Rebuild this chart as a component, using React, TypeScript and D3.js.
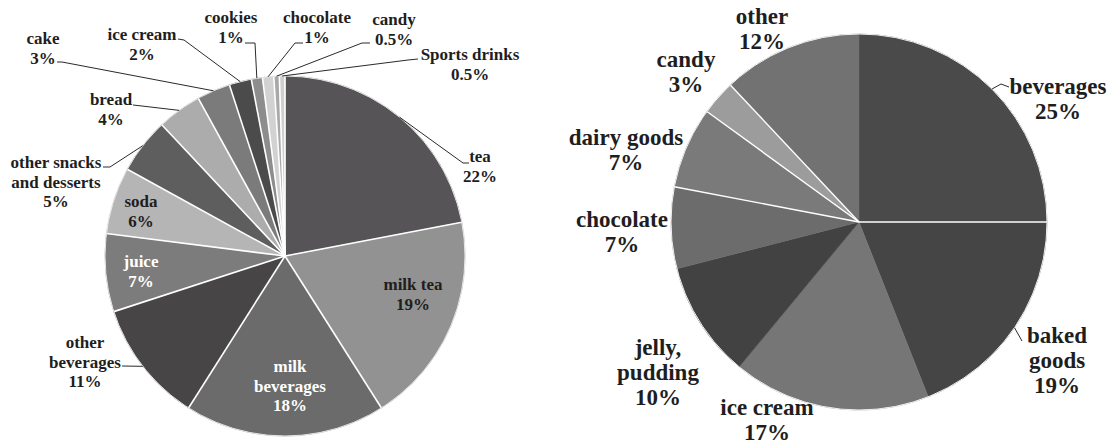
import React from 'react';
import * as d3 from 'd3';

// ---------- data ----------
const leftCategories = ['tea', 'milk tea', 'milk beverages', 'other beverages', 'juice', 'soda', 'other snacks and desserts', 'bread', 'cake', 'ice cream', 'cookies', 'chocolate', 'candy', 'Sports drinks'];
const leftValues = [22, 19, 18, 11, 7, 6, 5, 4, 3, 2, 1, 1, 0.5, 0.5];
const leftLabelLines = [
  ['tea', '22%'], ['milk tea', '19%'], ['milk', 'beverages', '18%'], ['other', 'beverages', '11%'],
  ['juice', '7%'], ['soda', '6%'], ['other snacks', 'and desserts', '5%'], ['bread', '4%'], ['cake', '3%'],
  ['ice cream', '2%'], ['cookies', '1%'], ['chocolate', '1%'], ['candy', '0.5%'], ['Sports drinks', '0.5%'],
];

const rightCategories = ['beverages', 'baked goods', 'ice cream', 'jelly, pudding', 'chocolate', 'dairy goods', 'candy', 'other'];
const rightValues = [25, 19, 17, 10, 7, 7, 3, 12];
const rightLabelLines = [
  ['beverages', '25%'], ['baked', 'goods', '19%'], ['ice cream', '17%'], ['jelly,', 'pudding', '10%'],
  ['chocolate', '7%'], ['dairy goods', '7%'], ['candy', '3%'], ['other', '12%'],
];

// ---------- styles / layout ----------
const leftColors = ['#565456', '#929292', '#6b6b6b', '#484546', '#7c7c7c', '#b5b5b5', '#5e5e5e', '#acacac', '#7b7b7b', '#4b4b4b', '#8d8d8d', '#d2d2d2', '#a9a9a9', '#cfcfcf'];
const rightColors = ['#4a4a4a', '#454545', '#767676', '#424242', '#6c6c6c', '#7a7a7a', '#9c9c9c', '#727272'];

// label placement: [x center, first line visual center y]
const leftLabelPos: [number, number][] = [
  [480, 157], [413, 285], [290, 367], [85, 343], [141, 262], [141, 202], [56, 163],
  [111, 100], [43, 39], [142, 35], [231, 18], [317, 18], [394, 20], [470, 55],
];
const leftLabelFill = ['#1e1e1e', '#1e1e1e', '#ffffff', '#1e1e1e', '#ffffff', '#1e1e1e', '#1e1e1e', '#1e1e1e', '#1e1e1e', '#1e1e1e', '#1e1e1e', '#1e1e1e', '#1e1e1e', '#1e1e1e'];
// leader lines: label-side points, then joined to the slice's outer arc point (null = no leader)
const leftLeaders: ([number, number][] | null)[] = [
  [[469, 163], [463, 163]], null, null, [[122, 366]], null, null, [[103, 167], [110, 167]],
  [[133, 105], [142, 106]], [[57, 62], [62, 62]], [[178, 39], [184, 40]], [[245, 43], [255, 43]],
  [[303, 43], [295, 43]], [[370, 43], [362, 43]], [[418, 59], [408, 60]],
];
const leftSeparators = leftValues.map(() => true);

const rightLabelPos: [number, number][] = [
  [1058, 87], [1057, 336], [767, 408], [658, 348], [622, 220], [626, 138], [686, 60], [762, 17],
];
const rightLeaders: ([number, number][] | null)[] = [
  [[1009, 87], [1001, 84]], [[1022, 341]], null, null, null, null, null, null,
];
// white separator drawn at the start edge of these slices
const rightSeparators = [false, true, false, false, false, true, true, true];

const LEFT = { cx: 285, cy: 256, r: 180, font: 17, lh: 19.5 };
const RIGHT = { cx: 859, cy: 222, r: 188, font: 23, lh: 25 };
const FONT = '"Liberation Serif", "Times New Roman", serif';

type PieProps = {
  values: number[];
  colors: string[];
  lines: string[][];
  pos: [number, number][];
  fills?: string[];
  leaders: ([number, number][] | null)[];
  separators: boolean[];
  cfg: { cx: number; cy: number; r: number; font: number; lh: number };
  strokeW: number;
  rim: string;
};

function Pie({ values, colors, lines, pos, fills, leaders, separators, cfg, strokeW, rim }: PieProps) {
  const pie = d3.pie<number>().sort(null).value((d) => d);
  const arcs = pie(values);
  const arc = d3.arc<d3.PieArcDatum<number>>().innerRadius(0).outerRadius(cfg.r);
  const edge = d3.arc<d3.PieArcDatum<number>>().innerRadius(cfg.r).outerRadius(cfg.r);
  const line = d3.line();
  return (
    <g>
      <g transform={`translate(${cfg.cx},${cfg.cy})`}>
        {arcs.map((a, i) => (
          <path key={i} d={arc(a) || ''} fill={colors[i]} stroke={colors[i]} strokeWidth={0.5} />
        ))}
        {arcs.map((a, i) => {
          if (!separators[i]) return null;
          const [x, y] = d3.pointRadial(a.startAngle, cfg.r);
          return <line key={'s' + i} x1={0} y1={0} x2={x} y2={y} stroke="#ffffff" strokeWidth={strokeW} />;
        })}
        <circle r={cfg.r} fill="none" stroke={rim} strokeWidth={1} />
      </g>
      {arcs.map((a, i) => {
        const L = leaders[i];
        if (!L) return null;
        const [ex, ey] = edge.centroid(a);
        const pts: [number, number][] = [...L, [cfg.cx + ex, cfg.cy + ey]];
        return <path key={'l' + i} d={line(pts) || ''} fill="none" stroke="#2a2a2a" strokeWidth={1} />;
      })}
      {lines.map((ls, i) => (
        <text key={'t' + i} x={pos[i][0]} textAnchor="middle" fontFamily={FONT} fontWeight="bold" fontSize={cfg.font}
          fill={fills ? fills[i] : '#1e1e1e'}>
          {ls.map((s, j) => (
            <tspan key={j} x={pos[i][0]} y={pos[i][1] + j * cfg.lh + cfg.font * 0.3}>{s}</tspan>
          ))}
        </text>
      ))}
    </g>
  );
}

export default function App() {
  return (
    <svg width={1116} height={444} style={{ position: 'absolute', left: 0, top: 0, background: '#ffffff' }}>
      <rect width={1116} height={444} fill="#ffffff" />
      <Pie values={leftValues} colors={leftColors} lines={leftLabelLines} pos={leftLabelPos} fills={leftLabelFill}
        leaders={leftLeaders} separators={leftSeparators} cfg={LEFT} strokeW={1.6} rim="#e6e6e6" />
      <Pie values={rightValues} colors={rightColors} lines={rightLabelLines} pos={rightLabelPos}
        leaders={rightLeaders} separators={rightSeparators} cfg={RIGHT} strokeW={1.4} rim="#f0f0f0" />
      <desc>{leftCategories.join(',')};{rightCategories.join(',')}</desc>
    </svg>
  );
}
